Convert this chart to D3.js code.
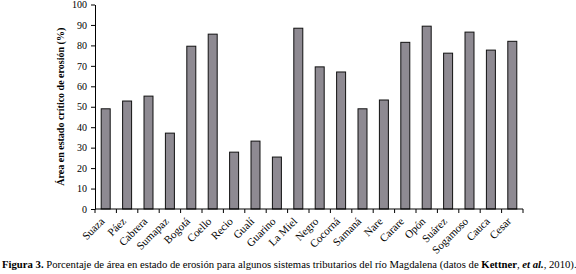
<!DOCTYPE html>
<html lang="es">
<head>
    <meta charset="UTF-8">
    <title>Figura 3</title>
    <script src="https://cdn.jsdelivr.net/npm/d3@7"></script>
    <style>
        body { margin: 0; background: #fff; }
        svg { display: block; font-family: "Liberation Serif", "DejaVu Serif", serif; }
        .axis path, .axis line { stroke: #000; }
        .axis text { fill: #000; font-size: 10px; font-family: "Liberation Serif", serif; }
        .axis .xlab { font-size: 11px; }
        .bar { fill: #8e8a92; stroke: #111; stroke-width: 1; }
        .caption { font-size: 10.7px; }
    </style>
</head>
<body>
<svg width="576" height="274"></svg>
<script>
    // datos
    var rios = ['Suaza', 'Páez', 'Cabrera', 'Sumapaz', 'Bogotá', 'Coello', 'Recio', 'Gualí', 'Guarino', 'La Miel',
        'Negro', 'Cocorná', 'Samaná', 'Nare', 'Carare', 'Opón', 'Suárez', 'Sogamoso', 'Cauca', 'Cesar'];
    var porcentaje = [49, 52.8, 55.2, 37.1, 79.6, 85.5, 27.8, 33.2, 25.4, 88.4,
        69.5, 67, 49, 53.3, 81.5, 89.4, 76.2, 86.5, 77.7, 82];
    var yTicks = [0, 10, 20, 30, 40, 50, 60, 70, 80, 90, 100];

    var svg = d3.select('svg'),
        margin = { left: 95, top: 4.5, right: 53, bottom: 65 },
        chartWidth = 576 - margin.left - margin.right,
        chartHeight = 274 - margin.top - margin.bottom;

    var xScale = d3.scaleBand().domain(rios).range([0, chartWidth]).paddingInner(0.58).paddingOuter(0.29),
        yScale = d3.scaleLinear().domain([0, 100]).range([chartHeight, 0]);

    var chartGroup = svg.append('g')
                        .attr('transform', 'translate(' + [margin.left, margin.top] + ')');

    chartGroup.selectAll('.bar')
                .data(porcentaje)
                .enter()
                .append('rect')
                .classed('bar', true)
                .attr('x', function(d, i) { return xScale(rios[i]); })
                .attr('y', function(d) { return yScale(d); })
                .attr('width', xScale.bandwidth())
                .attr('height', function(d) { return chartHeight - yScale(d); });

    var yAxis = d3.axisLeft(yScale).tickValues(yTicks).tickSize(4).tickSizeOuter(0).tickPadding(4);
    chartGroup.append('g').classed('axis', true).call(yAxis);

    // eje x: marcas entre categorías
    var xAxisG = chartGroup.append('g')
                .classed('axis', true)
                .attr('transform', 'translate(0,' + chartHeight + ')');
    xAxisG.append('line').attr('x1', 0).attr('x2', chartWidth).attr('y1', 0).attr('y2', 0);
    var step = xScale.step();
    xAxisG.selectAll('.tk')
            .data(d3.range(rios.length + 1))
            .enter()
            .append('line')
            .attr('x1', function(i) { return i * step; })
            .attr('x2', function(i) { return i * step; })
            .attr('y1', 0).attr('y2', 4);
    xAxisG.selectAll('.xlab')
            .data(rios)
            .enter()
            .append('text')
            .classed('xlab', true)
            .attr('text-anchor', 'end')
            .attr('transform', function(d) {
                return 'translate(' + [xScale(d) + xScale.bandwidth() / 2 - 0.5, 13] + ') rotate(-45)';
            })
            .text(function(d) { return d; });

    svg.append('text')
        .attr('transform', 'translate(64,' + (margin.top + chartHeight / 2) + ') rotate(-90)')
        .attr('text-anchor', 'middle')
        .style('font-size', '10px')
        .style('font-weight', 'bold')
        .text('Área en estado crítico de erosión (%)');

    var cap = svg.append('text').classed('caption', true).attr('x', 2).attr('y', 268);
    cap.append('tspan').style('font-weight', 'bold').text('Figura 3.');
    cap.append('tspan').text(' Porcentaje de área en estado de erosión para algunos sistemas tributarios del río Magdalena (datos de ');
    cap.append('tspan').style('font-weight', 'bold').text('Kettner');
    cap.append('tspan').text(', ');
    cap.append('tspan').style('font-weight', 'bold').style('font-style', 'italic').text('et al.');
    cap.append('tspan').text(', 2010).');
</script>
</body>
</html>
